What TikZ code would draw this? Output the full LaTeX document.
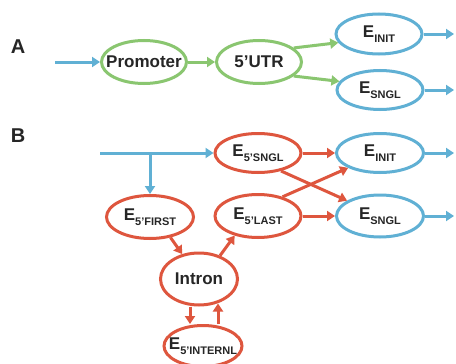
\documentclass[tikz,border=0pt]{standalone}
\usepackage{fontspec}
\setmainfont{Liberation Sans}
\usetikzlibrary{shapes.geometric,arrows.meta}
\definecolor{cgreen}{RGB}{138,198,112}
\definecolor{cblue}{RGB}{96,176,212}
\definecolor{cred}{RGB}{222,86,62}
\newcommand{\Es}[1]{E\raisebox{-4.5pt}{\fontsize{11}{11}\selectfont\bfseries #1}}
\tikzset{
  every label/.style={font=\fontsize{17}{17}\selectfont\bfseries, text=black!85, inner sep=0pt},
  ell/.style={ellipse, draw, line width=3pt, inner sep=0pt},
  gell/.style={ell, draw=cgreen, fill=white},
  bell/.style={ell, draw=cblue, fill=white},
  rell/.style={ell, draw=cred, fill=white},
  arr/.style={line width=3pt, -{Triangle[length=8pt,width=10pt]}},
  garr/.style={arr, draw=cgreen, fill=cgreen},
  barr/.style={arr, draw=cblue, fill=cblue},
  rarr/.style={arr, draw=cred, fill=cred},
  lab/.style={font=\fontsize{20}{20}\selectfont\bfseries, text=black!85}
}
\begin{document}
\begin{tikzpicture}[x=1pt,y=-1pt]
\path[use as bounding box, fill=white] (0,0) rectangle (456,364);
% labels
\node[lab] (labA) at (18,47) {A};
\node[lab] (labB) at (18,136) {B};
% Part A
\node[gell, minimum width=85pt, minimum height=43pt, label=center:{Promoter}] (prom) at (144,62) {};
\node[gell, minimum width=85pt, minimum height=43pt, label=center:{5’UTR}] (utr) at (259,62) {};
\node[bell, minimum width=86pt, minimum height=40pt, label=center:{\Es{INIT}}] (einitA) at (379,34) {};
\node[bell, minimum width=86pt, minimum height=39pt, label=center:{\Es{SNGL}}] (esnglA) at (380,90) {};
\coordinate (startA) at (55,62);
\coordinate (endA1) at (454,34);
\coordinate (endA2) at (454,90);
\draw[barr] (startA) -- (prom.west);
\draw[garr] (prom.east) -- (utr.west);
\draw[garr] (utr.22) -- (einitA.192);
\draw[garr] (utr.-22) -- (esnglA.168);
\draw[barr] (einitA.east) -- (endA1);
\draw[barr] (esnglA.east) -- (endA2);
% Part B
\node[rell, minimum width=86pt, minimum height=39pt, label=center:{\Es{5’SNGL}}] (s5) at (258,153) {};
\node[rell, minimum width=87pt, minimum height=43pt, label=center:{\Es{5’FIRST}}] (f5) at (150,217) {};
\node[rell, minimum width=86pt, minimum height=43pt, label=center:{\Es{5’LAST}}] (l5) at (258,216) {};
\node[bell, minimum width=87pt, minimum height=39pt, label=center:{\Es{INIT}}] (einitB) at (380,153) {};
\node[bell, minimum width=87pt, minimum height=42pt, label=center:{\Es{SNGL}}] (esnglB) at (380,216) {};
\node[rell, minimum width=77pt, minimum height=52pt, label=center:{Intron}] (intron) at (199,279) {};
\node[rell, minimum width=78pt, minimum height=41pt, label=center:{\Es{5’INTERNL}}] (int5) at (203,346) {};
\coordinate (startB) at (100,153);
\coordinate (branch) at (150,153);
\coordinate (endB1) at (454,153);
\coordinate (endB2) at (454,216);
\draw[barr] (startB) -- (s5.west);
\draw[barr] (branch) -- (f5.north);
\draw[barr] (einitB.east) -- (endB1);
\draw[barr] (esnglB.east) -- (endB2);
\draw[rarr] (s5.east) -- (einitB.west);
\draw[rarr] (s5.-38) -- (esnglB.155);
\draw[rarr] (l5.38) -- (einitB.205);
\draw[rarr] (l5.east) -- (esnglB.west);
\draw[rarr] (f5.-45) -- (intron.124);
\draw[rarr] (intron.48) -- (l5.220);
\draw[rarr] ([xshift=-9pt]intron.south) -- ([xshift=-9pt]intron.south |- int5.north);
\draw[rarr] ([xshift=19pt]intron.south |- int5.north) -- ([xshift=19pt,yshift=3pt]intron.south);
\end{tikzpicture}
\end{document}
